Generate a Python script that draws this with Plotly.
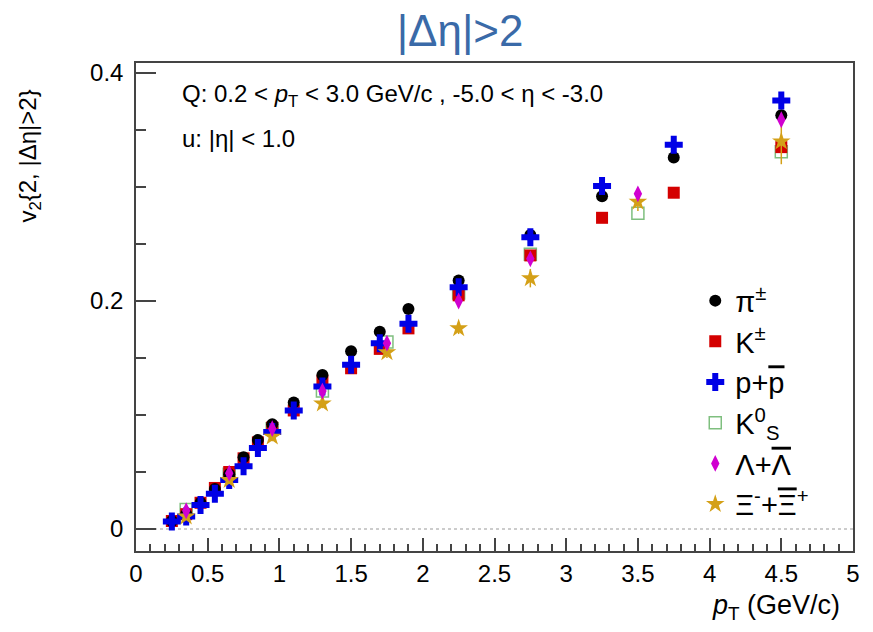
import plotly.graph_objects as go

# transverse-momentum bins (GeV/c)
pt_light = [0.25, 0.35, 0.45, 0.55, 0.65, 0.75, 0.85, 0.95, 1.1, 1.3, 1.5, 1.7, 1.9, 2.25, 2.75, 3.25, 3.75, 4.5]
pt_strange = [0.35, 0.65, 0.95, 1.3, 1.75, 2.25, 2.75, 3.5, 4.5]

# v2{2, |Δη|>2} per species
v2_pion = [0.007, 0.013, 0.023, 0.035, 0.048, 0.063, 0.078, 0.092, 0.111, 0.135, 0.156, 0.173, 0.193, 0.218, 0.258, 0.292, 0.326, 0.363]
v2_kaon = [0.007, 0.013, 0.023, 0.036, 0.050, 0.062, 0.076, 0.089, 0.104, 0.130, 0.141, 0.158, 0.176, 0.205, 0.240, 0.273, 0.295, 0.335]
v2_proton = [0.0065, 0.011, 0.021, 0.031, 0.043, 0.055, 0.071, 0.085, 0.104, 0.125, 0.144, 0.163, 0.180, 0.212, 0.256, 0.301, 0.337, 0.376]
v2_k0s = [0.017, 0.048, 0.088, 0.121, 0.164, 0.207, 0.241, 0.277, 0.331]
v2_lambda = [0.016, 0.049, 0.088, 0.121, 0.163, 0.200, 0.237, 0.294, 0.359]
v2_xi = [0.011, 0.043, 0.081, 0.110, 0.155, 0.176, 0.220, 0.287, 0.340]
err_xi = [0.002, 0.003, 0.004, 0.004, 0.005, 0.005, 0.008, 0.008, 0.020]

x_ticks = [0, 0.5, 1, 1.5, 2, 2.5, 3, 3.5, 4, 4.5, 5]
x_tick_text = ["0", "0.5", "1", "1.5", "2", "2.5", "3", "3.5", "4", "4.5", "5"]
y_ticks = [0, 0.2, 0.4]
y_tick_text = ["0", "0.2", "0.4"]

FONT = "Liberation Sans, Arial, sans-serif"
BAR = '<span style="text-decoration:overline">{}</span>'

species = [
    # name, x, y, symbol, color, size, rank, errors
    ("K<sup>0</sup><sub>S</sub>", pt_strange, v2_k0s, "square-open", "#7fbf7f", 12, 4, None),
    ("K<sup>±</sup>", pt_light, v2_kaon, "square", "#d40000", 12, 2, None),
    ("π<sup>±</sup>", pt_light, v2_pion, "circle", "#000000", 12, 1, None),
    ("p+" + BAR.format("p"), pt_light, v2_proton, "cross", "#0000e6", 15, 3, None),
    ("Ξ<sup>-</sup>+" + BAR.format("Ξ") + "<sup>+</sup>", pt_strange, v2_xi, "star", "#d4a017", 14, 6, err_xi),
    ("Λ+" + BAR.format("Λ"), pt_strange, v2_lambda, "diamond-tall", "#d000d0", 12, 5, None),
]

fig = go.Figure()
for name, xs, ys, sym, col, size, rank, errs in species:
    marker = dict(symbol=sym, color=col, size=size)
    if sym.endswith("open"):
        marker["line"] = dict(color=col, width=1.5)
    else:
        marker["line"] = dict(width=0)
    trace = dict(
        x=xs, y=ys, mode="markers", name=name, marker=marker,
        legendrank=rank, legendgroup=str(rank),
    )
    if errs is not None:
        trace["error_y"] = dict(type="data", array=errs, color=col, thickness=1.5, width=0)
    fig.add_trace(go.Scatter(**trace))

# dotted reference line at zero
fig.add_shape(type="line", xref="paper", x0=0, x1=1, yref="y", y0=0, y1=0,
              line=dict(color="#999999", width=1, dash="dot"), layer="below")

axis_common = dict(
    showgrid=False, zeroline=False, showline=True, mirror=True,
    linecolor="#444444", linewidth=1.5, ticks="inside", tickcolor="#444444",
    tickwidth=1.5, tickfont=dict(family=FONT, size=24, color="black"),
)

fig.update_layout(
    width=873, height=632,
    margin=dict(l=136, r=20, t=63, b=81),
    paper_bgcolor="white", plot_bgcolor="white",
    title=dict(text="|Δη|>2", x=0.527, xanchor="center", y=0.952, yanchor="middle",
               xref="container", yref="container",
               font=dict(family=FONT, size=44, color="#3a6aa8")),
    xaxis=dict(range=[0, 5], tickvals=x_ticks, ticktext=x_tick_text, ticklen=13,
               minor=dict(dtick=0.1, tick0=0, ticks="inside", ticklen=7,
                          tickcolor="#444444", tickwidth=1.5),
               **axis_common),
    yaxis=dict(range=[-0.0193, 0.4088], tickvals=y_ticks, ticktext=y_tick_text, ticklen=20,
               ticklabelstandoff=6,
               minor=dict(dtick=0.05, tick0=0, ticks="inside", ticklen=10,
                          tickcolor="#444444", tickwidth=1.5),
               **axis_common),
    legend=dict(x=0.78, y=0.565, xanchor="left", yanchor="top",
                bgcolor="rgba(0,0,0,0)", borderwidth=0, tracegroupgap=0,
                font=dict(family=FONT, size=29, color="black")),
    showlegend=True,
)

annotations = [
    dict(text="Q: 0.2 < <i>p</i><sub>T</sub> < 3.0 GeV/c , -5.0 < η < -3.0",
         x=0.061, y=0.934, xanchor="left", yanchor="middle", size=24),
    dict(text="u: |η| < 1.0", x=0.061, y=0.846, xanchor="left", yanchor="middle", size=24),
    dict(text="<i>p</i><sub>T</sub> (GeV/c)", x=0.985, y=-0.115, xanchor="right",
         yanchor="middle", size=27),
]
for a in annotations:
    fig.add_annotation(text=a["text"], xref="paper", yref="paper", x=a["x"], y=a["y"],
                       xanchor=a["xanchor"], yanchor=a["yanchor"], showarrow=False,
                       font=dict(family=FONT, size=a["size"], color="black"))

fig.add_annotation(text="v<sub>2</sub>{2, |Δη|>2}", xref="paper", yref="paper",
                   x=-0.148, y=0.81, xanchor="center", yanchor="middle", textangle=-90,
                   showarrow=False, font=dict(family=FONT, size=24, color="black"))

fig.write_html("out.html")
